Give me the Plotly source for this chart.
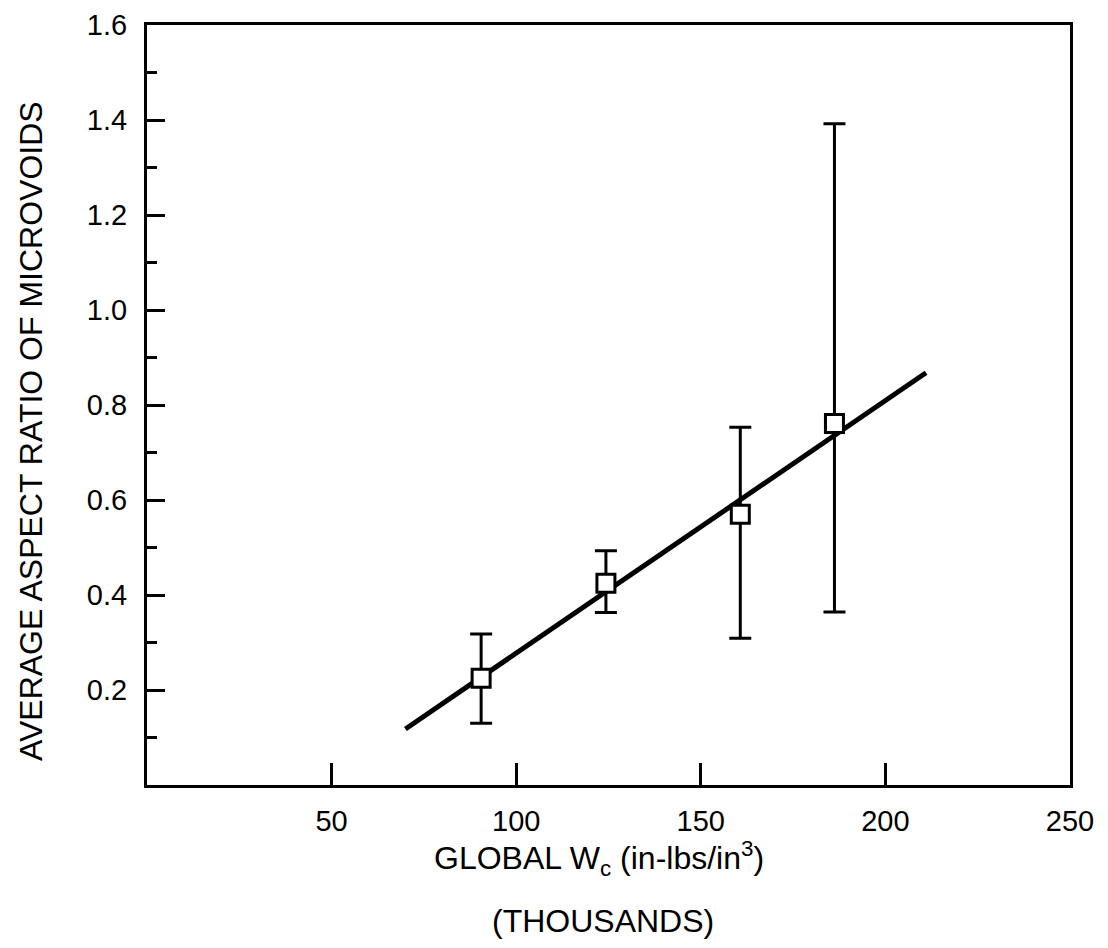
import plotly.graph_objects as go

# Data
wc_thousands = [90.5, 124.3, 160.7, 186.2]
aspect_ratio = [0.225, 0.425, 0.570, 0.761]
err_upper = [0.318, 0.493, 0.753, 1.392]
err_lower = [0.130, 0.363, 0.309, 0.364]

fit_x = [70, 211]
fit_y = [0.118, 0.868]

x_ticks = [50, 100, 150, 200, 250]
y_ticks = [0.2, 0.4, 0.6, 0.8, 1.0, 1.2, 1.4, 1.6]
y_tick_text = ["0.2", "0.4", "0.6", "0.8", "1.0", "1.2", "1.4", "1.6"]

FONT = "Liberation Sans, Arial, Helvetica, sans-serif"

fig = go.Figure()

fig.add_trace(go.Scatter(
    x=fit_x, y=fit_y, mode="lines",
    line=dict(color="black", width=5),
    showlegend=False, hoverinfo="skip",
))

fig.add_trace(go.Scatter(
    x=wc_thousands, y=aspect_ratio, mode="markers",
    marker=dict(symbol="square", size=18, color="white",
                line=dict(color="black", width=3)),
    error_y=dict(
        type="data", symmetric=False,
        array=[u - v for u, v in zip(err_upper, aspect_ratio)],
        arrayminus=[v - l for v, l in zip(aspect_ratio, err_lower)],
        color="black", thickness=3, width=11,
    ),
    showlegend=False,
))

fig.update_layout(
    width=1108, height=948,
    margin=dict(l=139, r=46, t=17, b=171),
    paper_bgcolor="white", plot_bgcolor="white",
    font=dict(family=FONT, color="black", size=29),
)

fig.update_xaxes(
    range=[0, 250], tickvals=x_ticks,
    ticks="inside", ticklen=22, tickwidth=2.5, tickcolor="black",
    showline=True, mirror=True, linecolor="black", linewidth=3,
    showgrid=False, zeroline=False, automargin=False,
    tickfont=dict(size=29, family=FONT, color="black"),
    ticklabelstandoff=8,
)
fig.update_yaxes(
    range=[0, 1.6], tickvals=y_ticks, ticktext=y_tick_text,
    ticks="inside", ticklen=18, tickwidth=2.5, tickcolor="black",
    minor=dict(dtick=0.1, ticks="inside", ticklen=10, tickwidth=2.5, tickcolor="black"),
    showline=True, mirror=True, linecolor="black", linewidth=3,
    showgrid=False, zeroline=False, automargin=False,
    tickfont=dict(size=29, family=FONT, color="black"),
    ticklabelstandoff=11,
)

fig.add_annotation(
    text="GLOBAL W<sub>c</sub> (in-lbs/in<sup>3</sup>)",
    xref="paper", yref="paper", x=0.5, y=0, xanchor="center", yanchor="middle",
    xshift=-10, yshift=-73, showarrow=False,
    font=dict(size=32, family=FONT, color="black"),
)
fig.add_annotation(
    text="(THOUSANDS)",
    xref="paper", yref="paper", x=0.5, y=0, xanchor="center", yanchor="middle",
    xshift=-6, yshift=-136, showarrow=False,
    font=dict(size=32, family=FONT, color="black"),
)
fig.add_annotation(
    text="AVERAGE ASPECT RATIO OF MICROVOIDS",
    xref="paper", yref="paper", x=0, y=0.5, xanchor="center", yanchor="middle",
    xshift=-116, yshift=-26, textangle=-90, showarrow=False,
    font=dict(size=32, family=FONT, color="black"),
)

fig.write_html("out.html")
